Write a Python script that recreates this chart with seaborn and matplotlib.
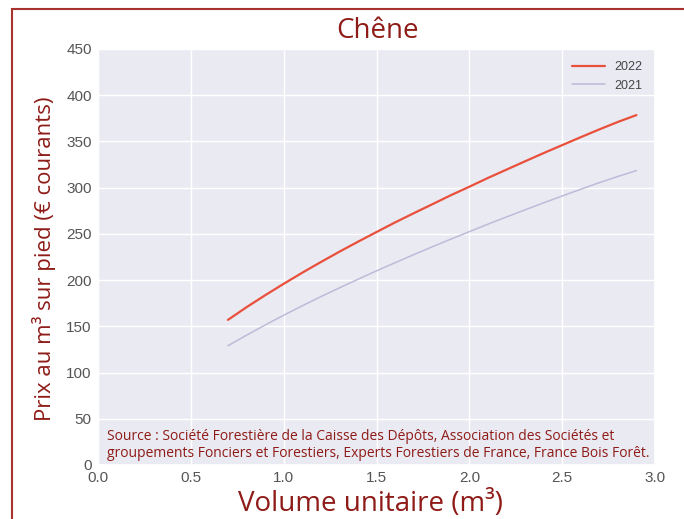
import matplotlib
matplotlib.use("Agg")
import matplotlib.pyplot as plt
import seaborn as sns
import pandas as pd
from matplotlib.patches import Rectangle

# Data
volume = [0.7, 0.8, 0.9, 1.0, 1.1, 1.2, 1.3, 1.4, 1.5, 1.6, 1.7, 1.8,
          1.9, 2.0, 2.1, 2.2, 2.3, 2.4, 2.5, 2.6, 2.7, 2.8, 2.9]
prix_2022 = [157, 170.7, 183.6, 196, 208, 219.5, 230.7, 241.5, 252, 262.4, 272.3, 282,
             291.8, 301, 310.5, 319.5, 328.5, 337.4, 346, 354.6, 363, 371.1, 378.5]
prix_2021 = [129, 140.4, 151.4, 162, 172.2, 182.1, 191.6, 200.9, 210, 218.8, 227.5, 236,
             244.3, 252.4, 260.5, 268.3, 276, 283.6, 291, 298.3, 305.4, 312.1, 318.5]
series_labels = ["2022", "2021"]
x_ticks = [0.0, 0.5, 1.0, 1.5, 2.0, 2.5, 3.0]
y_ticks = [0, 50, 100, 150, 200, 250, 300, 350, 400, 450]

title = "Chêne"
xlabel = "Volume unitaire (m³)"
ylabel = "Prix au m³ sur pied (€ courants)"
source = ("Source : Société Forestière de la Caisse des Dépôts, Association des Sociétés et\n"
          "groupements Fonciers et Forestiers, Experts Forestiers de France, France Bois Forêt.")

df = pd.concat([
    pd.DataFrame({"volume": volume, "prix": prix_2022, "année": series_labels[0]}),
    pd.DataFrame({"volume": volume, "prix": prix_2021, "année": series_labels[1]}),
])

sns.set_theme(style="darkgrid")
plt.rcParams["font.family"] = ["Liberation Sans", "DejaVu Sans"]

DARKRED = "#8E1B17"
TXTFONT = ["Open Sans", "DejaVu Sans"]
fig = plt.figure(figsize=(6.84, 5.19), dpi=100)
ax = fig.add_axes([98 / 684, 1 - 465 / 519, 557 / 684, 416 / 519])

palette = {"2022": "#E9503C", "2021": "#BDBBD9"}
sns.lineplot(data=df, x="volume", y="prix", hue="année", palette=palette,
             hue_order=series_labels, ax=ax, legend=True)
for line, lw in zip(ax.lines, [1.6, 1.1]):
    line.set_linewidth(lw)
    line.set_solid_joinstyle("round")

ax.set_xlim(0, 3.0)
ax.set_ylim(0, 450)
ax.set_xticks(x_ticks)
ax.set_yticks(y_ticks)
ax.set_xticklabels([f"{t:.1f}" for t in x_ticks])
ax.set_yticklabels([str(t) for t in y_ticks])
ax.tick_params(axis="both", labelsize=11, colors="#555555", length=0)
ax.tick_params(axis="x", pad=4.5)
ax.tick_params(axis="y", pad=4.5)

ax.set_xlabel("")
ax.set_ylabel("")
fig.text(371 / 684, 1 - 511 / 519, xlabel, fontsize=20, color=DARKRED, family=TXTFONT,
         ha="center", va="baseline")
fig.text(44 / 684, 1 - 259 / 519, ylabel, fontsize=16, color=DARKRED, family=TXTFONT,
         ha="center", va="center", rotation=90)
fig.text(377 / 684, 1 - 31 / 519, title, fontsize=20, color=DARKRED, family=TXTFONT,
         ha="center", va="center")

leg = ax.legend(frameon=False, loc="upper right", fontsize=9, labelcolor="#444444",
                handlelength=2.6, borderaxespad=0.6)
for h, lw in zip(leg.get_lines(), [1.6, 1.1]):
    h.set_linewidth(lw)

fig.text(107 / 684, 1 - 445 / 519, source, fontsize=10, color=DARKRED,
         family=TXTFONT, va="center", ha="left", linespacing=1.2)

# Figure frame
fig.patches.append(Rectangle((12 / 684, -0.05), 1.2, 1 - 9 / 519 + 0.05,
                             transform=fig.transFigure, fill=False,
                             edgecolor="#A8322D", linewidth=1.5))

fig.savefig("out.png", dpi=100)
